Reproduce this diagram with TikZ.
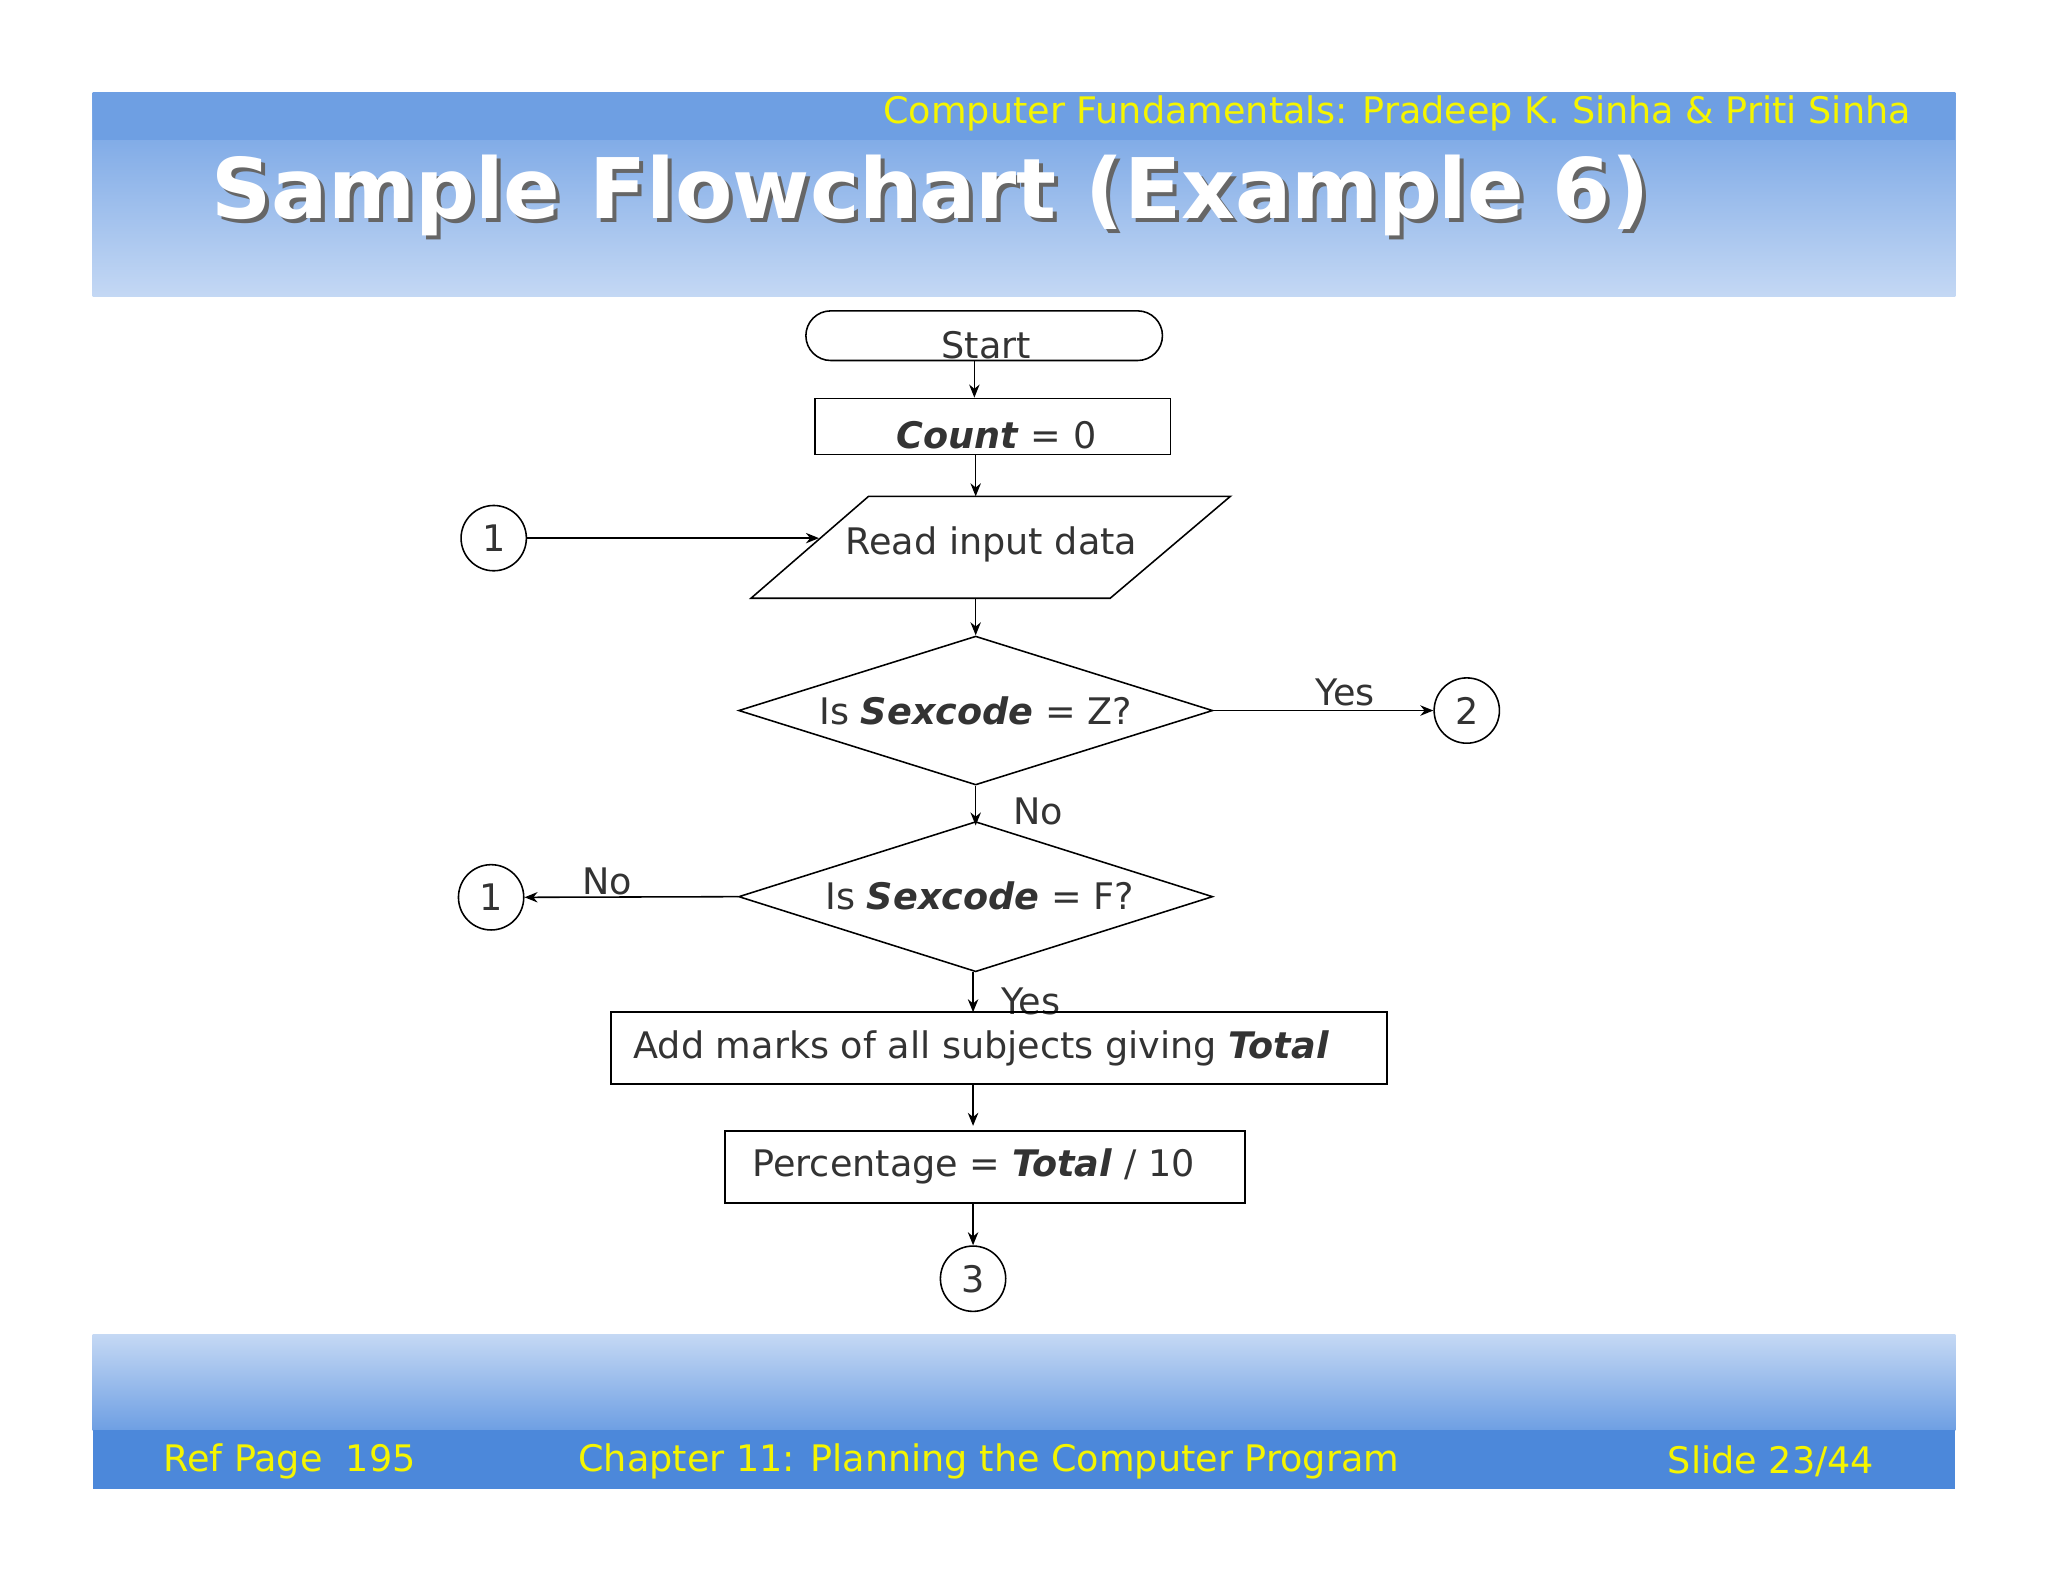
\documentclass[tikz,border=0pt]{standalone}
\usepackage{fontspec}
\setmainfont{DejaVu Sans}
\usetikzlibrary{shapes.geometric,arrows.meta,calc}
\definecolor{hdrA}{HTML}{6E9FE3}
\definecolor{hdrB}{HTML}{C4D8F4}
\definecolor{bar}{HTML}{4C88DA}
\definecolor{ylw}{HTML}{F5F500}
\definecolor{txt}{HTML}{333333}
\tikzset{
  box/.style={draw,line width=0.6pt,inner sep=0pt},
  lbl/.style={font=\fontsize{14}{16}\selectfont,text=txt},
  circ/.style={draw,circle,minimum size=25pt,inner sep=0pt,line width=0.6pt,font=\fontsize{14}{16}\selectfont,text=txt},
  arr/.style={-{Stealth[length=5pt,width=4pt]},line width=0.6pt},
}
\begin{document}
\begin{tikzpicture}[x=0.5pt,y=-0.5pt]
\useasboundingbox (0,0) rectangle (1568,1211);
\fill[white] (0,0) rectangle (1568,1211);
% header
\shade[top color=hdrA,bottom color=hdrB] (71,71) rectangle (1497,227);
\fill[hdrA] (71,71) rectangle (1497,107);
\node[anchor=east,text=ylw,font=\fontsize{14}{16}\selectfont] (sub) at (1470,87) {Computer Fundamentals: Pradeep K. Sinha \& Priti Sinha};
\node[anchor=west,text=black!60,font=\bfseries\fontsize{32}{36}\selectfont] (shadow) at (158,153) {Sample Flowchart (Example 6)};
\node[anchor=west,text=white,font=\bfseries\fontsize{32}{36}\selectfont] (title) at (155,150) {Sample Flowchart (Example 6)};
% footer
\shade[top color=hdrB,bottom color=hdrA] (71,1022) rectangle (1497,1095);
\fill[bar] (71,1095) rectangle (1497,1140);
\node[anchor=west,text=ylw,font=\fontsize{14}{16}\selectfont] (ref) at (118,1119) {Ref Page\ \ 195};
\node[text=ylw,font=\fontsize{14}{16}\selectfont] (chap) at (757,1119) {Chapter 11: Planning the Computer Program};
\node[anchor=east,text=ylw,font=\fontsize{14}{16}\selectfont] (sl) at (1442,1119) {Slide 23/44};
% flowchart
\node[draw,line width=0.6pt,rounded corners=9.5pt,minimum width=136.5pt,minimum height=19pt,inner sep=0pt] (startshape) at (753.5,257) {};
\node[lbl] (start) at (755,264) {Start};
\node[box,minimum width=136pt,minimum height=21.5pt] (count) at (760,326.5) {};
\node[lbl] at (763,333) {\textbf{\textit{Count}} = 0};
\draw[line width=0.6pt] (665,380) -- (942,380) -- (850,458) -- (575,458) -- cycle;
\node[lbl] (read) at (759,417) {Read input data};
\node[circ] (c1a) at (378,412) {1};
\node[draw,diamond,aspect=3.18,minimum width=181.5pt,minimum height=57pt,inner sep=0pt,line width=0.6pt] (d1) at (747,544) {};
\node[lbl] at (747,544) {Is \textbf{\textit{Sexcode}} = Z?};
\node[circ] (c2) at (1123,544) {2};
\node[lbl] at (1030,530) {Yes};
\node[draw,diamond,aspect=3.18,minimum width=181.5pt,minimum height=57.5pt,inner sep=0pt,line width=0.6pt] (d2) at (747,686.5) {};
\node[lbl] at (750,686) {Is \textbf{\textit{Sexcode}} = F?};
\node[lbl] at (795,621) {No};
\node[circ] (c1b) at (376,687) {1};
\node[lbl] at (465,675) {No};
\node[lbl] at (789,767) {Yes};
\node[box,minimum width=297pt,minimum height=27.5pt] (add) at (765,802.5) {};
\node[lbl,anchor=west] at (478,803) {Add marks of all subjects giving \textbf{\textit{Total}}};
\node[box,minimum width=199pt,minimum height=27.5pt] (pct) at (754,893.5) {};
\node[lbl,anchor=west] at (569,893) {Percentage = \textbf{\textit{Total}} / 10};
\node[circ] (c3) at (745,979) {3};
% arrows
\draw[arr] (startshape.south -| 746,0) -- (count.north -| 746,0);
\draw[arr] (count.south -| 747,0) -- (747,380);
\draw[arr] (c1a.east) -- (627,412);
\draw[arr] (747,458) -- (d1.north);
\draw[arr] (d1.east) -- (c2.west);
\draw[arr] (d1.south) -- (747,632);
\draw[arr] (d2.west) -- (c1b.east);
\draw[arr] (745,744) -- (745,775);
\draw[arr] (745,830) -- (745,862);
\draw[arr] (745,921) -- (c3.north);
\end{tikzpicture}
\end{document}
